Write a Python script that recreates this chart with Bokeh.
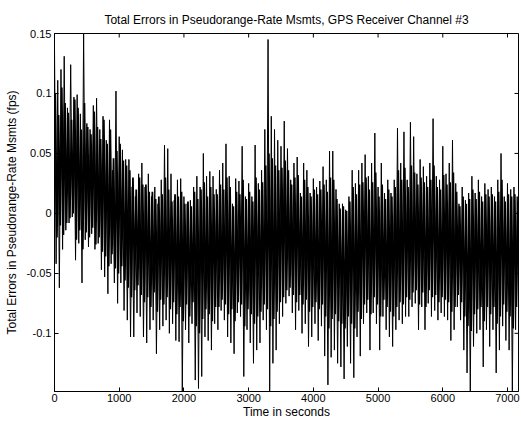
import math
from bokeh.plotting import figure
from bokeh.models import FixedTicker, CustomJSTickFormatter, Range1d, ColumnDataSource
from bokeh.embed import file_html
from bokeh.resources import INLINE

# sample times (s) of the readings; each 50 s block gives a peak, then a trough
sample_times = list(range(0, 7200, 50))
half_step = 25
quarter_step = 12.5

# largest upward excursion of the error in each 50 s block (fps)
upper = [
    0.138, 0.111, 0.120, 0.131, 0.088, 0.124, 0.097, 0.099, 0.083, 0.150,
    0.075, 0.070, 0.090, 0.096, 0.070, 0.081, 0.061, 0.078, 0.036, 0.102,
    0.064, 0.053, 0.045, 0.045, 0.022, 0.014, 0.033, 0.042, 0.022, 0.033,
    0.014, 0.022, 0.008, 0.028, 0.057, 0.054, 0.033, 0.011, 0.028, 0.029,
    0.014, 0.008, 0.011, 0.022, 0.031, 0.022, 0.050, 0.031, 0.035, 0.031,
    0.020, 0.036, 0.042, 0.058, 0.031, 0.008, 0.029, 0.027, 0.056, 0.014,
    0.025, 0.014, 0.057, 0.025, 0.036, 0.070, 0.145, 0.081, 0.070, 0.061,
    0.056, 0.077, 0.054, 0.028, 0.042, 0.047, 0.017, 0.042, 0.036, 0.017,
    0.029, 0.022, 0.027, 0.039, 0.028, 0.052, 0.052, 0.020, 0.008, 0.008,
    0.003, 0.014, 0.036, 0.025, 0.036, 0.042, 0.049,
    0.031, 0.042, 0.067, 0.022, 0.042, 0.017, 0.028, 0.017, 0.028, 0.071,
    0.042, 0.068, 0.028, 0.076, 0.064, 0.033, 0.045, 0.039, 0.031, 0.042,
    0.079, 0.031, 0.028, 0.056, 0.033, 0.042, 0.061, 0.025, 0.008, 0.022,
    0.011, 0.017, 0.031, 0.017, 0.028, 0.014, 0.025, 0.020, 0.022, 0.014,
    0.028, 0.050, 0.014, 0.025, 0.020, 0.022, 0.014,
]

# largest downward excursion of the error in each 50 s block (fps)
lower = [
    -0.042, -0.062, -0.030, -0.014, -0.008, -0.003, -0.039, -0.025, -0.058, -0.022,
    -0.028, -0.017, -0.030, -0.025, -0.047, -0.053, -0.067, -0.042, -0.058, -0.075,
    -0.058, -0.081, -0.089, -0.103, -0.103, -0.083, -0.086, -0.103, -0.108, -0.097,
    -0.089, -0.117, -0.097, -0.094, -0.089, -0.100, -0.092, -0.106, -0.107, -0.148,
    -0.097, -0.108, -0.092, -0.139, -0.146, -0.136, -0.103, -0.106, -0.114, -0.092,
    -0.097, -0.081, -0.089, -0.103, -0.108, -0.117, -0.083, -0.086, -0.136, -0.097,
    -0.108, -0.125, -0.114, -0.108, -0.089, -0.097, -0.148, -0.125, -0.114, -0.092,
    -0.086, -0.075, -0.069, -0.083, -0.097, -0.081, -0.100, -0.092, -0.111, -0.103,
    -0.092, -0.106, -0.094, -0.119, -0.143, -0.120, -0.114, -0.125, -0.128, -0.138,
    -0.111, -0.125, -0.137, -0.103, -0.119, -0.092, -0.083,
    -0.114, -0.083, -0.092, -0.114, -0.086, -0.097, -0.103, -0.111, -0.097, -0.089,
    -0.092, -0.086, -0.086, -0.078, -0.075, -0.097, -0.078, -0.097, -0.075, -0.086,
    -0.081, -0.089, -0.083, -0.086, -0.089, -0.106, -0.097, -0.078, -0.089, -0.114,
    -0.133, -0.148, -0.111, -0.100, -0.097, -0.128, -0.097, -0.111, -0.097, -0.133,
    -0.114, -0.094, -0.106, -0.114, -0.148, -0.097, -0.092,
]

# typical (secondary) peak of each 50 s block: top of the dense body (fps)
upper_typ = [
    0.100, 0.082, 0.105, 0.092, 0.084, 0.078, 0.095, 0.088, 0.070, 0.092,
    0.072, 0.066, 0.085, 0.072, 0.062, 0.078, 0.058, 0.070, 0.046, 0.052,
    0.058, 0.044, 0.040, 0.036, 0.030, 0.020, 0.030, 0.024, 0.024, 0.018,
    0.018, 0.012, 0.014, 0.016, 0.030, 0.020, 0.010, 0.016, 0.014, 0.018,
    0.008, 0.010, 0.006, 0.018, 0.012, 0.020, 0.026, 0.014, 0.022, 0.016,
    0.016, 0.024, 0.020, 0.030, 0.022, 0.006, 0.018, 0.016, 0.028, 0.012,
    0.018, 0.010, 0.030, 0.020, 0.026, 0.040, 0.050, 0.046, 0.040, 0.036,
    0.038, 0.044, 0.036, 0.024, 0.030, 0.032, 0.014, 0.028, 0.022, 0.014,
    0.020, 0.016, 0.020, 0.024, 0.018, 0.030, 0.028, 0.012, 0.004, 0.006,
    0.002, 0.010, 0.022, 0.016, 0.024, 0.026, 0.030,
    0.020, 0.026, 0.034, 0.014, 0.024, 0.012, 0.020, 0.014, 0.022, 0.036,
    0.028, 0.038, 0.022, 0.040, 0.034, 0.024, 0.030, 0.026, 0.022, 0.028,
    0.040, 0.022, 0.020, 0.032, 0.024, 0.026, 0.034, 0.018, 0.006, 0.014,
    0.008, 0.012, 0.020, 0.012, 0.018, 0.010, 0.016, 0.014, 0.016, 0.010,
    0.018, 0.028, 0.010, 0.016, 0.014, 0.016, 0.010,
]

# typical (secondary) trough of each 50 s block: bottom of the dense body (fps)
lower_typ = [
    -0.020, -0.010, -0.018, -0.008, -0.004, 0.000, -0.022, -0.014, -0.030, -0.016,
    -0.020, -0.012, -0.026, -0.020, -0.032, -0.036, -0.044, -0.034, -0.046, -0.050,
    -0.044, -0.056, -0.062, -0.070, -0.064, -0.060, -0.068, -0.074, -0.070, -0.078,
    -0.066, -0.082, -0.072, -0.076, -0.070, -0.080, -0.074, -0.084, -0.078, -0.090,
    -0.076, -0.086, -0.074, -0.094, -0.100, -0.088, -0.080, -0.084, -0.090, -0.078,
    -0.078, -0.072, -0.076, -0.084, -0.080, -0.090, -0.074, -0.076, -0.094, -0.080,
    -0.084, -0.092, -0.086, -0.082, -0.076, -0.080, -0.094, -0.088, -0.082, -0.074,
    -0.070, -0.064, -0.062, -0.068, -0.074, -0.068, -0.076, -0.072, -0.082, -0.078,
    -0.074, -0.080, -0.076, -0.086, -0.096, -0.088, -0.084, -0.090, -0.092, -0.096,
    -0.086, -0.092, -0.096, -0.082, -0.088, -0.076, -0.072,
    -0.084, -0.070, -0.076, -0.086, -0.072, -0.078, -0.082, -0.086, -0.078, -0.074,
    -0.076, -0.070, -0.072, -0.066, -0.064, -0.076, -0.066, -0.078, -0.064, -0.070,
    -0.068, -0.074, -0.070, -0.072, -0.074, -0.082, -0.078, -0.068, -0.074, -0.086,
    -0.094, -0.098, -0.084, -0.080, -0.078, -0.090, -0.078, -0.084, -0.078, -0.092,
    -0.086, -0.076, -0.082, -0.086, -0.096, -0.078, -0.074,
]

x_ticks = [0, 1000, 2000, 3000, 4000, 5000, 6000, 7000]
y_ticks = [0.15, 0.1, 0.05, 0, -0.05, -0.1]
x_end = 7170
y_start, y_end = -0.1485, 0.15

title_text = "Total Errors in Pseudorange-Rate Msmts, GPS Receiver Channel #3"
x_label = "Time in seconds"
y_label = "Total Errors in Pseudorange-Rate Msmts (fps)"

# interleave peaks and troughs into zig-zag traces
xs, ys = [], []
for t, hi, lo in zip(sample_times, upper, lower):
    xs += [t, t + half_step]
    ys += [hi, lo]
xs2, ys2 = [], []
for t, hi, lo in zip(sample_times, upper_typ, lower_typ):
    xs2 += [t + quarter_step, t + quarter_step + half_step]
    ys2 += [hi, lo]
src = ColumnDataSource(dict(t=xs, err=ys))
src2 = ColumnDataSource(dict(t=xs2, err=ys2))

FONT = "Liberation Sans"

p = figure(width=521, height=421, output_backend="svg", toolbar_location=None,
           x_range=Range1d(0, x_end), y_range=Range1d(y_start, y_end),
           min_border_left=54, min_border_right=3, min_border_top=33, min_border_bottom=29,
           background_fill_color="white", border_fill_color="white")

p.line("t", "err", source=src2, line_color="black", line_width=1.8)
p.line("t", "err", source=src, line_color="black", line_width=1)

# mirrored inward tick marks on the top and right sides of the box
p.ray(x=x_ticks, y=[y_end] * len(x_ticks), length=4, length_units="screen",
      angle=-math.pi / 2, line_color="black", line_width=1)
p.ray(x=[x_end] * len(y_ticks), y=y_ticks, length=4, length_units="screen",
      angle=math.pi, line_color="black", line_width=1)

p.title.text = title_text
p.title.align = "center"
p.title.vertical_align = "top"
p.title.text_font = FONT
p.title.text_font_style = "normal"
p.title.text_font_size = "12px"
p.title.text_color = "black"
p.title.standoff = 10

p.xgrid.visible = False
p.ygrid.visible = False
p.outline_line_color = "black"
p.outline_line_width = 1

fmt = CustomJSTickFormatter(code="return tick.toString()")

for ax in p.xaxis:
    ax.ticker = FixedTicker(ticks=x_ticks)
    ax.axis_label = x_label
    ax.major_label_standoff = 2
    ax.axis_label_standoff = 0
for ax in p.yaxis:
    ax.ticker = FixedTicker(ticks=y_ticks)
    ax.formatter = fmt
    ax.axis_label = y_label
    ax.major_label_standoff = 3
    ax.axis_label_standoff = 4

for ax in list(p.xaxis) + list(p.yaxis):
    ax.major_tick_in = 4
    ax.major_tick_out = 0
    ax.minor_tick_line_color = None
    ax.axis_line_color = "black"
    ax.major_tick_line_color = "black"
    ax.major_label_text_font = FONT
    ax.major_label_text_font_size = "11px"
    ax.major_label_text_color = "black"
    ax.axis_label_text_font = FONT
    ax.axis_label_text_font_size = "12px"
    ax.axis_label_text_font_style = "normal"
    ax.axis_label_text_color = "black"

open("out.html", "w").write(file_html(p, INLINE))
